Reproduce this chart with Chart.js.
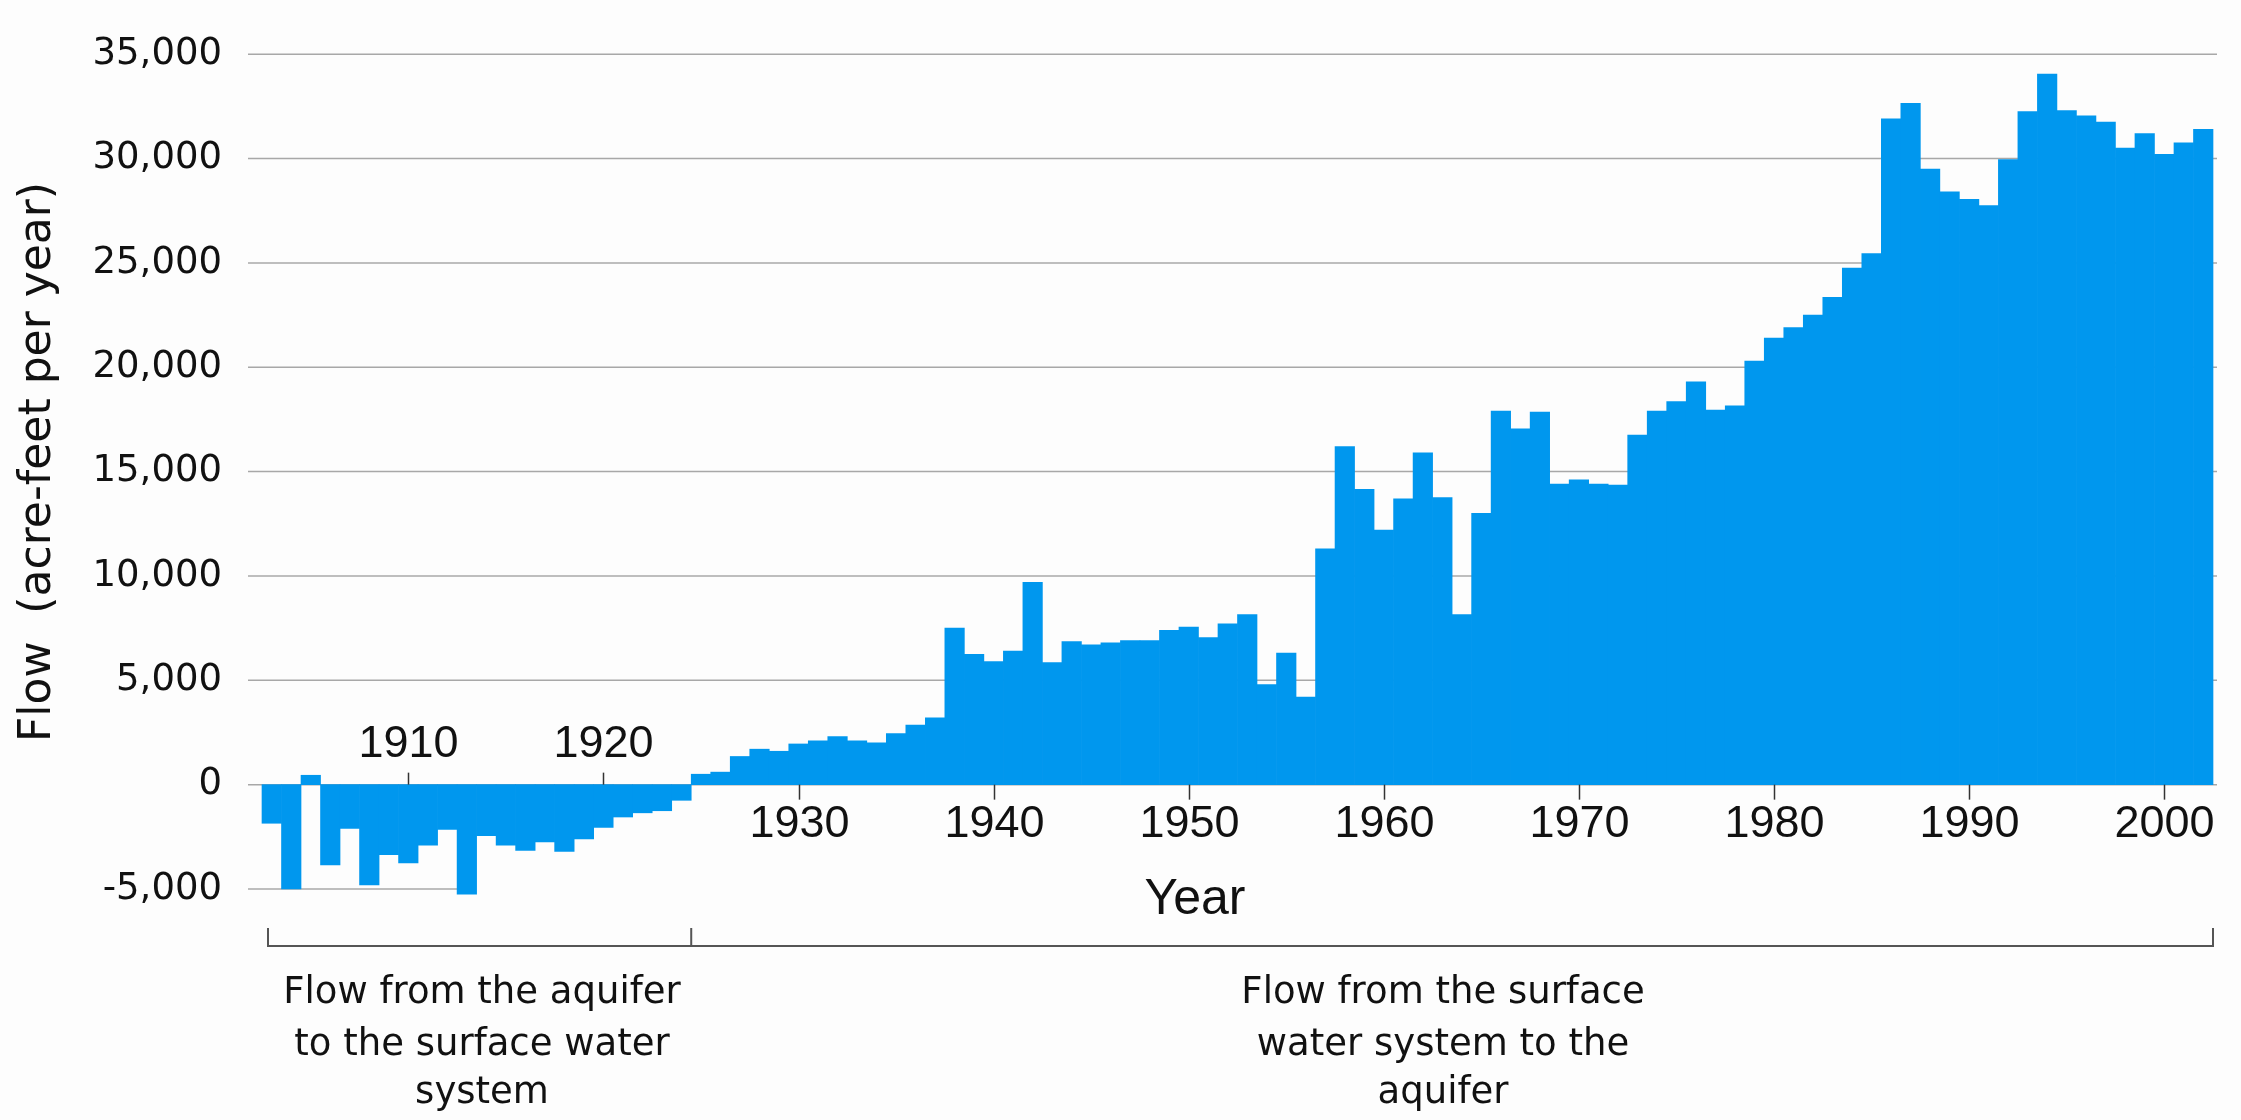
<!DOCTYPE html>
<html>
<head>
<meta charset="utf-8">
<title>Flow between the aquifer and the surface water system</title>
<script src="https://cdn.jsdelivr.net/npm/chart.js@4.4.1/dist/chart.umd.min.js"></script>
<style>
  html, body { margin: 0; padding: 0; background: #fdfdfd; }
  #wrap { width: 2241px; height: 1120px; position: relative; }
</style>
</head>
<body>
<div id="wrap"><canvas id="flowChart"></canvas></div>
<script>
// one bar per year
var years = [
  '1903', '1904', '1905', '1906', '1907', '1908', '1909', '1910', '1911', '1912',
  '1913', '1914', '1915', '1916', '1917', '1918', '1919', '1920', '1921', '1922',
  '1923', '1924', '1925', '1926', '1927', '1928', '1929', '1930', '1931', '1932',
  '1933', '1934', '1935', '1936', '1937', '1938', '1939', '1940', '1941', '1942',
  '1943', '1944', '1945', '1946', '1947', '1948', '1949', '1950', '1951', '1952',
  '1953', '1954', '1955', '1956', '1957', '1958', '1959', '1960', '1961', '1962',
  '1963', '1964', '1965', '1966', '1967', '1968', '1969', '1970', '1971', '1972',
  '1973', '1974', '1975', '1976', '1977', '1978', '1979', '1980', '1981', '1982',
  '1983', '1984', '1985', '1986', '1987', '1988', '1989', '1990', '1991', '1992',
  '1993', '1994', '1995', '1996', '1997', '1998', '1999', '2000', '2001', '2002'
];

// acre-feet per year (negative = aquifer to surface water)
var flow = [
  -1850, -5000,   450, -3850, -2100, -4800, -3350, -3750, -2900, -2150,
  -5250, -2450, -2900, -3150, -2750, -3200, -2600, -2050, -1550, -1350,
  -1250,  -750,   500,   600,  1350,  1700,  1600,  1950,  2100,  2300,
   2100,  2000,  2450,  2850,  3200,  7500,  6250,  5900,  6400,  9700,
   5850,  6850,  6700,  6800,  6900,  6900,  7400,  7550,  7050,  7700,
   8150,  4800,  6300,  4200, 11300, 16200, 14150, 12200, 13700, 15900,
  13750,  8150, 13000, 17900, 17050, 17850, 14400, 14600, 14400, 14350,
  16750, 17900, 18350, 19300, 17950, 18150, 20300, 21400, 21900, 22500,
  23350, 24750, 25450, 31900, 32650, 29500, 28400, 28050, 27750, 29950,
  32250, 34050, 32300, 32050, 31750, 30500, 31200, 30200, 30750, 31400
];

var yearTicks = ['1910', '1920', '1930', '1940', '1950', '1960', '1970', '1980', '1990', '2000'];
var yMin = -5000;
var yMax = 35000;
var yStep = 5000;

var leftNote = ['Flow from the aquifer', 'to the surface water', 'system'];
var rightNote = ['Flow from the surface', 'water system to the', 'aquifer'];
var splitYear = '1925';   // first year of flow into the aquifer
var gridCutYear = '1913'; // bottom gridline stops here in the original

var barColor = '#0097ee';
var gridColor = '#a8a8a8';

function barWidth(x) {
  return (x.right - x.left) / years.length;
}

// horizontal gridlines, drawn under the bars
var gridPlugin = {
  id: 'flowGrid',
  beforeDatasetsDraw: function(chart) {
    var ctx = chart.ctx;
    var x = chart.scales.x;
    var y = chart.scales.y;
    var area = chart.chartArea;
    var cutX = x.getPixelForValue(years.indexOf(gridCutYear)) - barWidth(x) / 2;
    ctx.save();
    ctx.strokeStyle = gridColor;
    ctx.lineWidth = 1.5;
    y.ticks.forEach(function(t) {
      var py = y.getPixelForValue(t.value);
      var end = t.value === yMin ? cutX : area.right + 4;
      ctx.beginPath();
      ctx.moveTo(area.left - 14, py);
      ctx.lineTo(end, py);
      ctx.stroke();
    });
    ctx.restore();
  }
};

// year ticks on the zero line, titles, bracket and notes
var notesPlugin = {
  id: 'flowNotes',
  afterDraw: function(chart) {
    var ctx = chart.ctx;
    var x = chart.scales.x;
    var y = chart.scales.y;
    var y0 = y.getPixelForValue(0);

    ctx.save();
    ctx.fillStyle = '#111';
    ctx.strokeStyle = '#333';
    ctx.lineWidth = 1.5;
    ctx.textAlign = 'center';
    ctx.textBaseline = 'alphabetic';
    ctx.font = '45px "Liberation Sans", Arial, sans-serif';
    yearTicks.forEach(function(label) {
      var i = years.indexOf(label);
      var px = Math.round(x.getPixelForValue(i)) + 0.5;
      ctx.beginPath();
      if (flow[i] < 0) {
        ctx.moveTo(px, y0 - 12);
        ctx.lineTo(px, y0);
        ctx.stroke();
        ctx.fillText(label, px, y0 - 28);
      } else {
        ctx.moveTo(px, y0);
        ctx.lineTo(px, y0 + 15);
        ctx.stroke();
        ctx.fillText(label, px, y0 + 52);
      }
    });

    // axis titles
    ctx.font = '50px "Liberation Sans", Arial, sans-serif';
    ctx.fillText('Year', 1195, 914);

    ctx.save();
    ctx.translate(50, 462);
    ctx.rotate(-Math.PI / 2);
    ctx.font = '44px "DejaVu Sans", sans-serif';
    ctx.fillText('Flow  (acre-feet per year)', 0, 0);
    ctx.restore();

    // bracket under the chart
    var splitX = x.getPixelForValue(years.indexOf(splitYear)) - barWidth(x) / 2;
    var by = 946;
    ctx.strokeStyle = '#555';
    ctx.lineWidth = 2;
    ctx.beginPath();
    ctx.moveTo(x.left + 6, by - 18);
    ctx.lineTo(x.left + 6, by);
    ctx.lineTo(x.right, by);
    ctx.lineTo(x.right, by - 18);
    ctx.moveTo(splitX, by - 18);
    ctx.lineTo(splitX, by);
    ctx.stroke();

    ctx.font = '37px "DejaVu Sans", sans-serif';
    var lineY = [1003, 1055, 1103];
    leftNote.forEach(function(t, k) { ctx.fillText(t, 482, lineY[k]); });
    rightNote.forEach(function(t, k) { ctx.fillText(t, 1443, lineY[k]); });
    ctx.restore();
  }
};

var ctx = document.getElementById('flowChart').getContext('2d');
var chart = new Chart(ctx, {
  type: 'bar',
  data: {
    labels: years,
    datasets: [{
      label: 'Flow',
      data: flow,
      backgroundColor: barColor,
      borderWidth: 0,
      barPercentage: 1,
      categoryPercentage: 1,
      clip: false
    }]
  },
  options: {
    responsive: true,
    maintainAspectRatio: false,
    animation: false,
    layout: {
      padding: { left: 0, right: 28, top: 29, bottom: 231 }
    },
    plugins: {
      legend: { display: false },
      tooltip: { enabled: false }
    },
    scales: {
      x: {
        display: false,
        offset: true
      },
      y: {
        min: yMin,
        max: yMax,
        border: { display: false },
        grid: { display: false },
        ticks: {
          stepSize: yStep,
          padding: 32,
          color: '#111',
          font: { family: '"DejaVu Sans", sans-serif', size: 37 },
          callback: function(v) { return v.toLocaleString('en-US'); }
        },
        afterFit: function(scale) { scale.width = 262; }
      }
    }
  },
  plugins: [gridPlugin, notesPlugin]
});
</script>
</body>
</html>
